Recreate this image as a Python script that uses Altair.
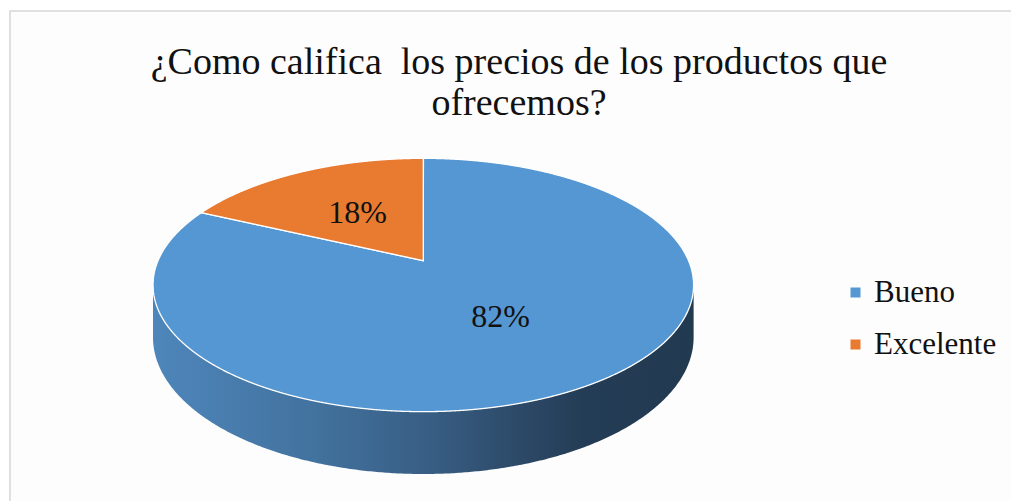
import numpy as np
import pandas as pd
import altair as alt

# Survey answers and their shares (percent)
categories = ["Bueno", "Excelente"]
shares = [82, 18]
slice_colors = ["#5597d2", "#e97b31"]

title_lines = ["¿Como califica\u00a0 los precios de los productos que", "ofrecemos?"]

W, H = 1011, 501
SERIF = "Liberation Serif"

# Tilted-disc geometry in screen pixels
CX, CY = 423.3, 260.7     # projected centre of the disc
AX, BY = 265.3, 122.0     # semi-axes before perspective
PERSP = 0.1918            # perspective: the front edge appears larger
DEPTH = 50.4              # thickness of the disc
LABEL_R = 0.5             # radial position of the percentage labels


def project(u, v):
    s = 1.0 / (1.0 - PERSP * v)
    return CX + AX * u * s, CY + BY * v * s


def disc_point(phi_deg, r=1.0):
    phi = np.radians(phi_deg)
    return project(r * np.sin(phi), -r * np.cos(phi))


def spans(px, py, step=0.5):
    """Vertical extent of a polygon at regularly spaced x positions."""
    x1, y1 = px, py
    x2, y2 = np.roll(px, -1), np.roll(py, -1)
    xs = np.arange(px.min(), px.max() + step, step)
    xs = np.clip(xs, px.min() + 1e-6, px.max() - 1e-6)
    rows = []
    for x in xs:
        m = ((x1 <= x) & (x < x2)) | ((x2 <= x) & (x < x1))
        if m.sum() < 2:
            continue
        t = (x - x1[m]) / (x2[m] - x1[m])
        ys = y1[m] + t * (y2[m] - y1[m])
        rows.append((x, ys.min(), ys.max()))
    return rows


# Top face: one polygon per slice, clockwise from 12 o'clock
total = float(sum(shares))
top_rows, label_rows = [], []
start = 0.0
for cat, val in zip(categories, shares):
    end = start + val / total * 360.0
    phis = np.linspace(start, end, max(int((end - start) * 2), 8))
    ax, ay = disc_point(phis)
    px = np.concatenate([[CX], ax])
    py = np.concatenate([[CY], ay])
    for x, ylo, yhi in spans(px, py):
        top_rows.append({"cat": cat, "x": x, "y": ylo, "y2": yhi})
    lx, ly = disc_point((start + end) / 2.0, LABEL_R)
    label_rows.append({"cat": cat, "x": float(lx), "y": float(ly), "txt": f"{val}%"})
    start = end
top_df = pd.DataFrame(top_rows)
label_df = pd.DataFrame(label_rows)

# Front wall of the disc, between the silhouette extremes
phi_side = np.degrees(np.arccos(PERSP))
side_phis = np.linspace(180.0 - phi_side, 180.0 + phi_side, 400)
sx, sy = disc_point(side_phis)
sv = -np.cos(np.radians(side_phis))
side_df = pd.DataFrame({
    "x": sx,
    "y": sy,
    "y2": sy + DEPTH / (1.0 - PERSP * sv),
})

title_df = pd.DataFrame({"txt": title_lines, "y": [63.0, 104.0]})

xs = alt.Scale(domain=[0, W], nice=False, zero=False)
ys = alt.Scale(domain=[0, H], nice=False, zero=False, reverse=True)

frame = alt.Chart(pd.DataFrame({"k": [0]})).mark_rect(
    fill="#fdfdfd", stroke="#d6d6d6", strokeWidth=1.5
).encode(
    x=alt.value(10), x2=alt.value(W + 5), y=alt.value(11), y2=alt.value(H + 5)
)

side = alt.Chart(side_df).mark_area(
    color=alt.Gradient(
        gradient="linear",
        stops=[
            alt.GradientStop(color="#4e86bb", offset=0.0),
            alt.GradientStop(color="#42729e", offset=0.3),
            alt.GradientStop(color="#385d83", offset=0.52),
            alt.GradientStop(color="#2c4967", offset=0.68),
            alt.GradientStop(color="#243d56", offset=0.8),
            alt.GradientStop(color="#213a50", offset=1.0),
        ],
        x1=0, x2=1, y1=0, y2=0,
    )
).encode(
    x=alt.X("x:Q", scale=xs, axis=None),
    y=alt.Y("y:Q", scale=ys, axis=None),
    y2="y2:Q",
)

top = alt.Chart(top_df).mark_area(
    stroke="#ffffff", strokeWidth=1.3, opacity=1
).encode(
    x=alt.X("x:Q", scale=xs, axis=None),
    y=alt.Y("y:Q", scale=ys, axis=None),
    y2="y2:Q",
    color=alt.Color(
        "cat:N",
        scale=alt.Scale(domain=categories, range=slice_colors),
        title=None,
        legend=alt.Legend(
            orient="none",
            legendX=840,
            legendY=277,
            symbolType="square",
            symbolSize=100,
            symbolStrokeWidth=0,
            labelFont=SERIF,
            labelFontSize=31,
            labelColor="#111111",
            labelOffset=3,
            rowPadding=20,
        ),
    ),
)

labels = alt.Chart(label_df).mark_text(
    font=SERIF, fontSize=32, color="#111111", baseline="middle", align="center"
).encode(
    x=alt.X("x:Q", scale=xs, axis=None),
    y=alt.Y("y:Q", scale=ys, axis=None),
    text="txt:N",
)

title = alt.Chart(title_df).mark_text(
    font=SERIF, fontSize=38, color="#111111", baseline="middle", align="center"
).encode(
    x=alt.value(519),
    y=alt.Y("y:Q", scale=ys, axis=None),
    text="txt:N",
)

chart = alt.layer(frame, side, top, labels, title).properties(
    width=W, height=H, padding=0, autosize="none", background="#ffffff"
).configure_view(stroke=None)

chart.save("out.html", embed_options={"renderer": "svg", "actions": False})
